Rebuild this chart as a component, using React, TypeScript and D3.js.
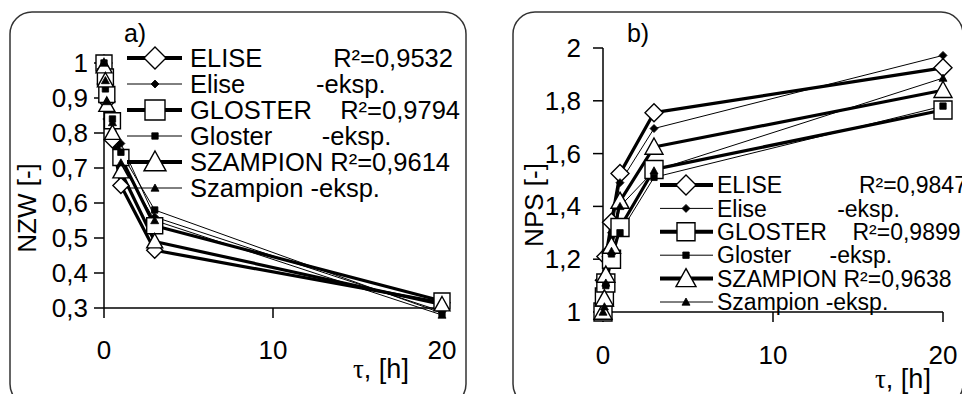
import React from "react";
import * as d3 from "d3";

// drying time, h
const hours = [0, 0.083, 0.167, 0.5, 1, 3, 20];

// a) NZW [-]
const nzwEliseFit = [1.0, 0.94, 0.89, 0.78, 0.65, 0.465, 0.315];
const nzwEliseExp = [1.0, 0.93, 0.84, 0.8, 0.77, 0.56, 0.29];
const nzwGlosterFit = [1.0, 0.96, 0.91, 0.835, 0.73, 0.535, 0.32];
const nzwGlosterExp = [1.0, 0.926, 0.87, 0.84, 0.745, 0.58, 0.285];
const nzwSzampionFit = [0.99, 0.95, 0.88, 0.8, 0.69, 0.49, 0.31];
const nzwSzampionExp = [1.0, 0.95, 0.89, 0.83, 0.715, 0.55, 0.28];

// b) NPS [-]
const npsEliseFit = [1.0, 1.12, 1.21, 1.34, 1.525, 1.755, 1.925];
const npsEliseExp = [1.0, 1.1, 1.21, 1.3, 1.49, 1.695, 1.972];
const npsGlosterFit = [1.0, 1.057, 1.11, 1.2, 1.32, 1.54, 1.765];
const npsGlosterExp = [1.0, 1.05, 1.1, 1.22, 1.3, 1.51, 1.78];
const npsSzampionFit = [1.0, 1.05, 1.14, 1.25, 1.42, 1.625, 1.84];
const npsSzampionExp = [1.0, 1.02, 1.11, 1.23, 1.4, 1.535, 1.886];

const xTicks = [0, 10, 20];
const nzwTicks = [0.3, 0.4, 0.5, 0.6, 0.7, 0.8, 0.9, 1];
const npsTicks = [1, 1.2, 1.4, 1.6, 1.8, 2];

const nzwNames = [
  "ELISE          R²=0,9532",
  "Elise          -eksp.",
  "GLOSTER    R²=0,9794",
  "Gloster       -eksp.",
  "SZAMPION R²=0,9614",
  "Szampion -eksp.",
];
const npsNames = [
  "ELISE            R²=0,9847",
  "Elise           -eksp.",
  "GLOSTER    R²=0,9899",
  "Gloster      -eksp.",
  "SZAMPION R²=0,9638",
  "Szampion -eksp.",
];

const shapes = ["diamond", "diamond", "square", "square", "triangle", "triangle"];
const isFit = [true, false, true, false, true, false];

const SANS = "'Liberation Sans', Arial, sans-serif";
const fmt = (v: number) => String(+v.toFixed(2)).replace(".", ",");

function markerPath(shape: string, r: number) {
  if (shape === "diamond") return `M0,${-r}L${r},0L0,${r}L${-r},0Z`;
  if (shape === "square") return `M${-r},${-r}H${r}V${r}H${-r}Z`;
  return `M0,${-r}L${r},${r * 0.8}L${-r},${r * 0.8}Z`;
}

function Marker({ shape, fit, x, y, big }: any) {
  const r = fit ? big : shape === "square" ? 3.2 : 4;
  return (
    <path
      d={markerPath(shape, r)}
      transform={`translate(${x},${y})`}
      fill={fit ? "#fff" : "#000"}
      stroke="#000"
      strokeWidth={fit ? 1.4 : 0.8}
    />
  );
}

function Panel({ cfg, series, names, yTicks, yDomain }: any) {
  const x = d3.scaleLinear().domain([0, 20]).range([cfg.x0, cfg.x1]);
  const y = d3.scaleLinear().domain(yDomain).range([cfg.y0, cfg.y1]);
  const line = d3
    .line<number>()
    .x((_, i) => x(hours[i]))
    .y((d) => y(d));
  const lg = cfg.legend;

  return (
    <g fontFamily={SANS} fill="#000">
      <rect
        x={cfg.frame[0]}
        y={cfg.frame[1]}
        width={cfg.frame[2]}
        height={cfg.frame[3]}
        rx={22}
        fill="none"
        stroke="#333"
        strokeWidth={1.5}
      />
      <text x={cfg.title[0]} y={cfg.title[1]} fontSize={25} textAnchor="middle">
        {cfg.titleText}
      </text>

      {/* axes */}
      <line x1={cfg.x0} x2={cfg.x0} y1={y(yDomain[1])} y2={cfg.y0} stroke="#000" strokeWidth={1.5} />
      <line x1={cfg.x0} x2={x(20)} y1={cfg.y0} y2={cfg.y0} stroke="#000" strokeWidth={1.5} />
      {yTicks.map((t: number) => (
        <g key={t}>
          <line x1={cfg.x0 - 10} x2={cfg.x0} y1={y(t)} y2={y(t)} stroke="#000" strokeWidth={1.5} />
          <text x={cfg.yLabX} y={y(t) + 9} fontSize={cfg.tickFont} textAnchor="end">
            {fmt(t)}
          </text>
        </g>
      ))}
      {xTicks.map((t) => (
        <g key={t}>
          <line x1={x(t)} x2={x(t)} y1={cfg.y0} y2={cfg.y0 + 10} stroke="#000" strokeWidth={1.5} />
          <text x={x(t)} y={cfg.xLabY} fontSize={cfg.tickFont} textAnchor="middle">
            {t}
          </text>
        </g>
      ))}
      <text
        transform={`translate(${cfg.yTitle[0]},${cfg.yTitle[1]}) rotate(-90)`}
        fontSize={cfg.tickFont}
        textAnchor="middle"
        dy="0.35em"
      >
        {cfg.yTitleText}
      </text>
      <text x={cfg.xTitle[0]} y={cfg.xTitle[1]} fontSize={27}>
        <tspan fontFamily="'Liberation Serif', 'DejaVu Serif', serif">τ</tspan>
        <tspan>, [h]</tspan>
      </text>

      {/* series */}
      {series.map((vals: number[], s: number) => (
        <path
          key={"l" + s}
          d={line(vals) || ""}
          fill="none"
          stroke="#000"
          strokeWidth={isFit[s] ? 3.2 : 1}
          strokeLinejoin="round"
        />
      ))}
      {series.map((vals: number[], s: number) =>
        vals.map((v, i) => (
          <Marker key={s + "-" + i} shape={shapes[s]} fit={isFit[s]} x={x(hours[i])} y={y(v)} big={cfg.markR} />
        ))
      )}

      {/* legend */}
      {names.map((n: string, i: number) => {
        const ly = lg.y + i * lg.step;
        return (
          <g key={"g" + i}>
            <line x1={lg.x1} x2={lg.x2} y1={ly} y2={ly} stroke="#000" strokeWidth={isFit[i] ? 4 : 1} />
            <Marker shape={shapes[i]} fit={isFit[i]} x={lg.mx} y={ly} big={shapes[i] === "square" ? lg.r - 1 : lg.r} />
            <text x={lg.tx} y={ly + lg.font * 0.36} fontSize={lg.font} style={{ whiteSpace: "pre" }}>
              {n}
            </text>
          </g>
        );
      })}
    </g>
  );
}

const leftCfg = {
  frame: [10, 12, 456, 394],
  x0: 104,
  x1: 442,
  y0: 308,
  y1: 63,
  title: [135, 42],
  titleText: "a)",
  yTitle: [27, 208],
  yTitleText: "NZW [-]",
  xTitle: [353, 378],
  yLabX: 88,
  xLabY: 359,
  tickFont: 26,
  markR: 8,
  legend: { x1: 127, x2: 182, mx: 155, tx: 190, y: 58, step: 26, font: 25.5, r: 11 },
};

const rightCfg = {
  frame: [513, 12, 450, 394],
  x0: 603,
  x1: 943,
  y0: 312,
  y1: 48,
  title: [638, 42],
  titleText: "b)",
  yTitle: [534, 205],
  yTitleText: "NPS [-]",
  xTitle: [875, 388],
  yLabX: 581,
  xLabY: 364,
  tickFont: 26,
  markR: 9,
  legend: { x1: 660, x2: 713, mx: 686, tx: 717, y: 185, step: 23.4, font: 23, r: 10 },
};

export default function App() {
  return (
    <svg
      width={962}
      height={394}
      style={{ position: "absolute", left: 0, top: 0, background: "#fff" }}
    >
      <Panel
        cfg={leftCfg}
        series={[nzwEliseFit, nzwEliseExp, nzwGlosterFit, nzwGlosterExp, nzwSzampionFit, nzwSzampionExp]}
        names={nzwNames}
        yTicks={nzwTicks}
        yDomain={[0.3, 1]}
      />
      <Panel
        cfg={rightCfg}
        series={[npsEliseFit, npsEliseExp, npsGlosterFit, npsGlosterExp, npsSzampionFit, npsSzampionExp]}
        names={npsNames}
        yTicks={npsTicks}
        yDomain={[1, 2]}
      />
    </svg>
  );
}
